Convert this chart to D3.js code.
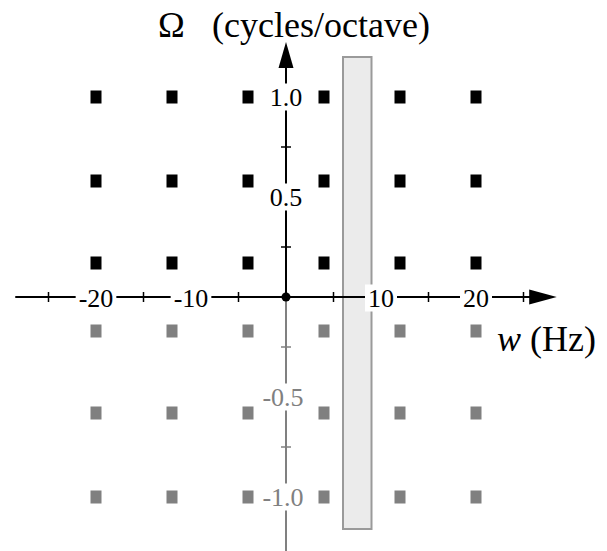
<!DOCTYPE html>
<html>
<head>
<meta charset="utf-8">
<script src="https://cdn.jsdelivr.net/npm/d3@7"></script>
<style>
  body { margin: 0; background: #fff; }
  text { font-family: "Liberation Serif", "Times New Roman", serif; }
</style>
</head>
<body>
<div id="chart"></div>
<script>
// modulation frequencies (Hz) and scale densities (cycles/octave) of the filters
const rates = [-20, -12, -4, 4, 12, 20];
const scales = [1.0, 0.58, 0.17, -0.17, -0.58, -1.0];
const xTicks = [-25, -15, -5, 5, 15, 25];
const xLabels = ["-20", "-10", "10", "20"];
const yTicks = [0.75, 0.25, -0.25, -0.75];
const yLabels = ["1.0", "0.5", "-0.5", "-1.0"];
const bandRate = [6, 9];
const bandScale = [-1.16, 1.2];

const w = 607;
const h = 551;
const black = "#000";
const grey = "#808080";

const svg = d3.select("#chart").append("svg").attr("width", w).attr("height", h);

const x = d3.scaleLinear().domain([-10, 10]).range([191, 381]);
const y = d3.scaleLinear().domain([-1, 1]).range([497, 97]);

// shaded band
svg.append("rect")
  .attr("x", x(bandRate[0]))
  .attr("y", y(bandScale[1]))
  .attr("width", x(bandRate[1]) - x(bandRate[0]))
  .attr("height", y(bandScale[0]) - y(bandScale[1]))
  .attr("fill", "#ebebeb")
  .attr("stroke", "#9a9a9a")
  .attr("stroke-width", 2);

// filter centres
const pts = [];
scales.forEach((s) => rates.forEach((r) => pts.push({ r: r, s: s })));
svg.selectAll("rect.pt")
  .data(pts)
  .enter()
  .append("rect")
  .attr("class", "pt")
  .attr("x", (d) => x(d.r) - 5.5)
  .attr("y", (d) => y(d.s) - 6.5)
  .attr("width", 11)
  .attr("height", 13)
  .attr("fill", (d) => (d.s > 0 ? black : grey));

// x axis
svg.append("line")
  .attr("x1", x(-28.5)).attr("x2", x(25.7))
  .attr("y1", y(0)).attr("y2", y(0))
  .attr("stroke", black).attr("stroke-width", 2);
svg.append("path")
  .attr("d", "M" + x(25.6) + "," + (y(0) - 7.5) + "L" + x(28.5) + "," + y(0) + "L" + x(25.6) + "," + (y(0) + 7.5) + "Z")
  .attr("fill", black);
svg.selectAll("line.xt")
  .data(xTicks)
  .enter()
  .append("line")
  .attr("class", "xt")
  .attr("x1", (d) => x(d)).attr("x2", (d) => x(d))
  .attr("y1", y(0) - 5).attr("y2", y(0) + 5)
  .attr("stroke", black).attr("stroke-width", 1.5);

// y axis: upper black, lower grey
svg.append("line")
  .attr("x1", x(0)).attr("x2", x(0))
  .attr("y1", y(0)).attr("y2", y(1.15))
  .attr("stroke", black).attr("stroke-width", 2);
svg.append("path")
  .attr("d", "M" + (x(0) - 7.5) + "," + y(1.145) + "L" + x(0) + "," + y(1.275) + "L" + (x(0) + 7.5) + "," + y(1.145) + "Z")
  .attr("fill", black);
svg.append("line")
  .attr("x1", x(0)).attr("x2", x(0))
  .attr("y1", y(0)).attr("y2", y(-1.3))
  .attr("stroke", grey).attr("stroke-width", 2);
svg.selectAll("line.yt")
  .data(yTicks)
  .enter()
  .append("line")
  .attr("class", "yt")
  .attr("x1", x(0) - 5).attr("x2", x(0) + 5)
  .attr("y1", (d) => y(d)).attr("y2", (d) => y(d))
  .attr("stroke", (d) => (d > 0 ? black : grey)).attr("stroke-width", 1.5);

svg.append("circle")
  .attr("cx", x(0)).attr("cy", y(0)).attr("r", 4.5)
  .attr("fill", black);

// tick labels with white backing
function label(tx, ty, str, col) {
  const g = svg.append("g");
  const bg = g.append("rect").attr("fill", "#fff");
  const t = g.append("text")
    .attr("x", tx).attr("y", ty)
    .attr("text-anchor", "middle")
    .attr("dominant-baseline", "central")
    .attr("font-size", 26)
    .attr("fill", col)
    .text(str);
  const b = t.node().getBBox();
  bg.attr("x", b.x - 3).attr("y", b.y + 1)
    .attr("width", b.width + 6).attr("height", b.height - 2);
}
xLabels.forEach((d) => label(x(+d), y(0) + 1, d, black));
yLabels.forEach((d) => label(x(0) - (+d < 0 ? 3 : 0), y(+d), d, +d > 0 ? black : grey));

// axis titles
svg.append("text")
  .attr("x", 158).attr("y", 37)
  .attr("font-size", 36)
  .text("\u03A9");
svg.append("text")
  .attr("x", 212).attr("y", 37)
  .attr("font-size", 36)
  .text("(cycles/octave)");
const xt = svg.append("text")
  .attr("x", 497).attr("y", 351)
  .attr("font-size", 36);
xt.append("tspan").attr("font-style", "italic").text("w");
xt.append("tspan").text(" (Hz)");
</script>
</body>
</html>
